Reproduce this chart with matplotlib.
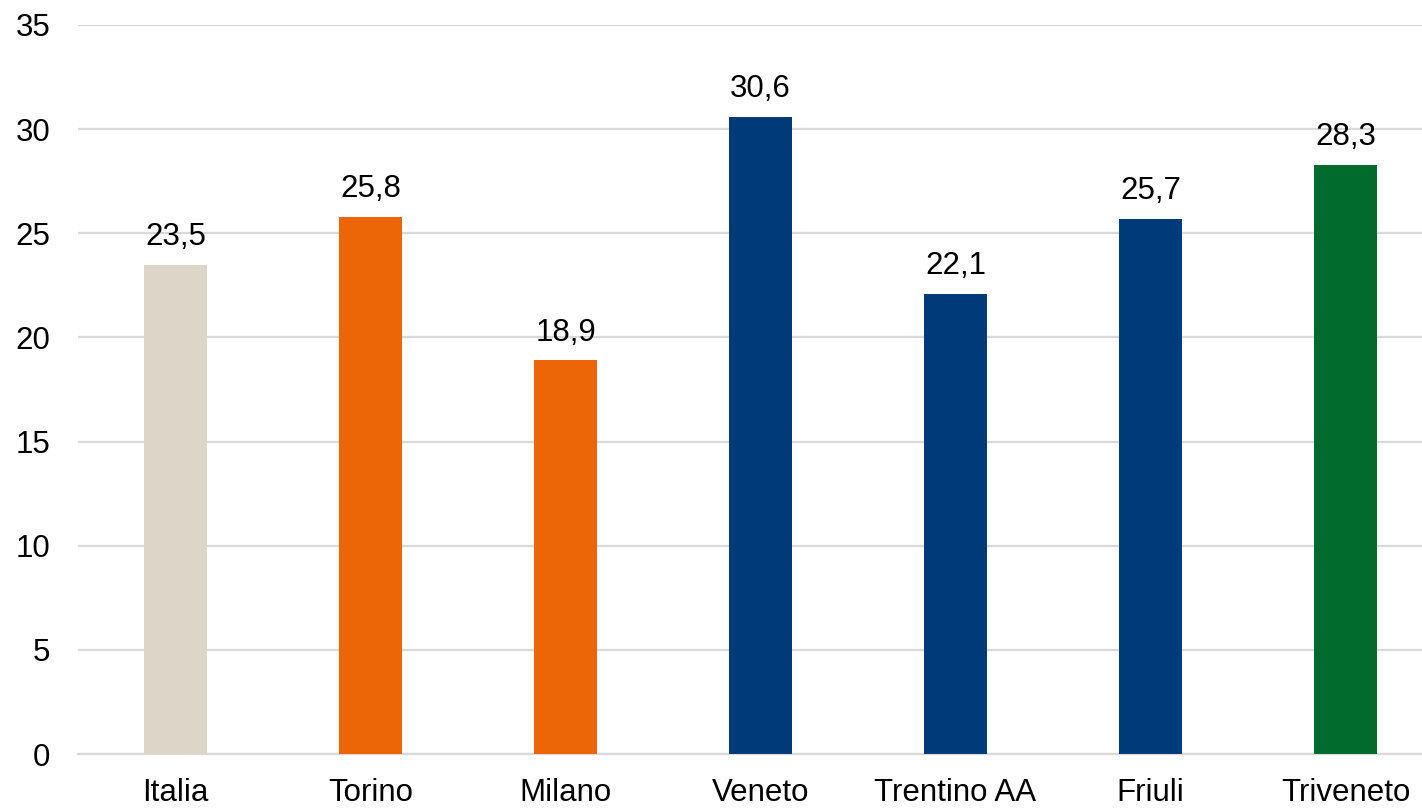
import matplotlib
matplotlib.use("Agg")
import matplotlib.pyplot as plt

categories = ["Italia", "Torino", "Milano", "Veneto", "Trentino AA", "Friuli", "Triveneto"]
values = [23.5, 25.8, 18.9, 30.6, 22.1, 25.7, 28.3]
labels = ["23,5", "25,8", "18,9", "30,6", "22,1", "25,7", "28,3"]
colors = ["#ded5c9", "#ec6608", "#ec6608", "#003a78", "#003a78", "#003a78", "#006b2d"]
yticks = [0, 5, 10, 15, 20, 25, 30, 35]

FS = 22.5
plt.rcParams['font.family'] = ['Liberation Sans', 'DejaVu Sans']
fig = plt.figure(figsize=(14.22, 8.08), dpi=100)
ax = fig.add_axes([78/1422, 1-754/808, 1-78/1422, (754-25)/808])

x = list(range(len(categories)))
ax.bar(x, values, width=0.318, color=colors, zorder=3)
for xi, v, l in zip(x, values, labels):
    ax.text(xi, v + 0.6, l, ha='center', va='bottom', fontsize=FS, color='black')

ax.set_ylim(0, 35)
ax.set_xlim(-0.5, -0.5 + 1344/195)
ax.set_yticks(yticks)
ax.set_yticklabels([str(t) for t in yticks], fontsize=FS)
ax.set_xticks(x)
ax.set_xticklabels(categories, fontsize=FS)
ax.yaxis.grid(True, color='#d9d9d9', linewidth=1.6, zorder=0)
ax.tick_params(axis='both', length=0)
ax.tick_params(axis='y', pad=20)
ax.tick_params(axis='x', pad=17)
for s in ['top', 'right', 'left']:
    ax.spines[s].set_visible(False)
ax.spines['bottom'].set_color('#d9d9d9')
ax.spines['bottom'].set_linewidth(1.6)

fig.savefig("out.png", dpi=100)
